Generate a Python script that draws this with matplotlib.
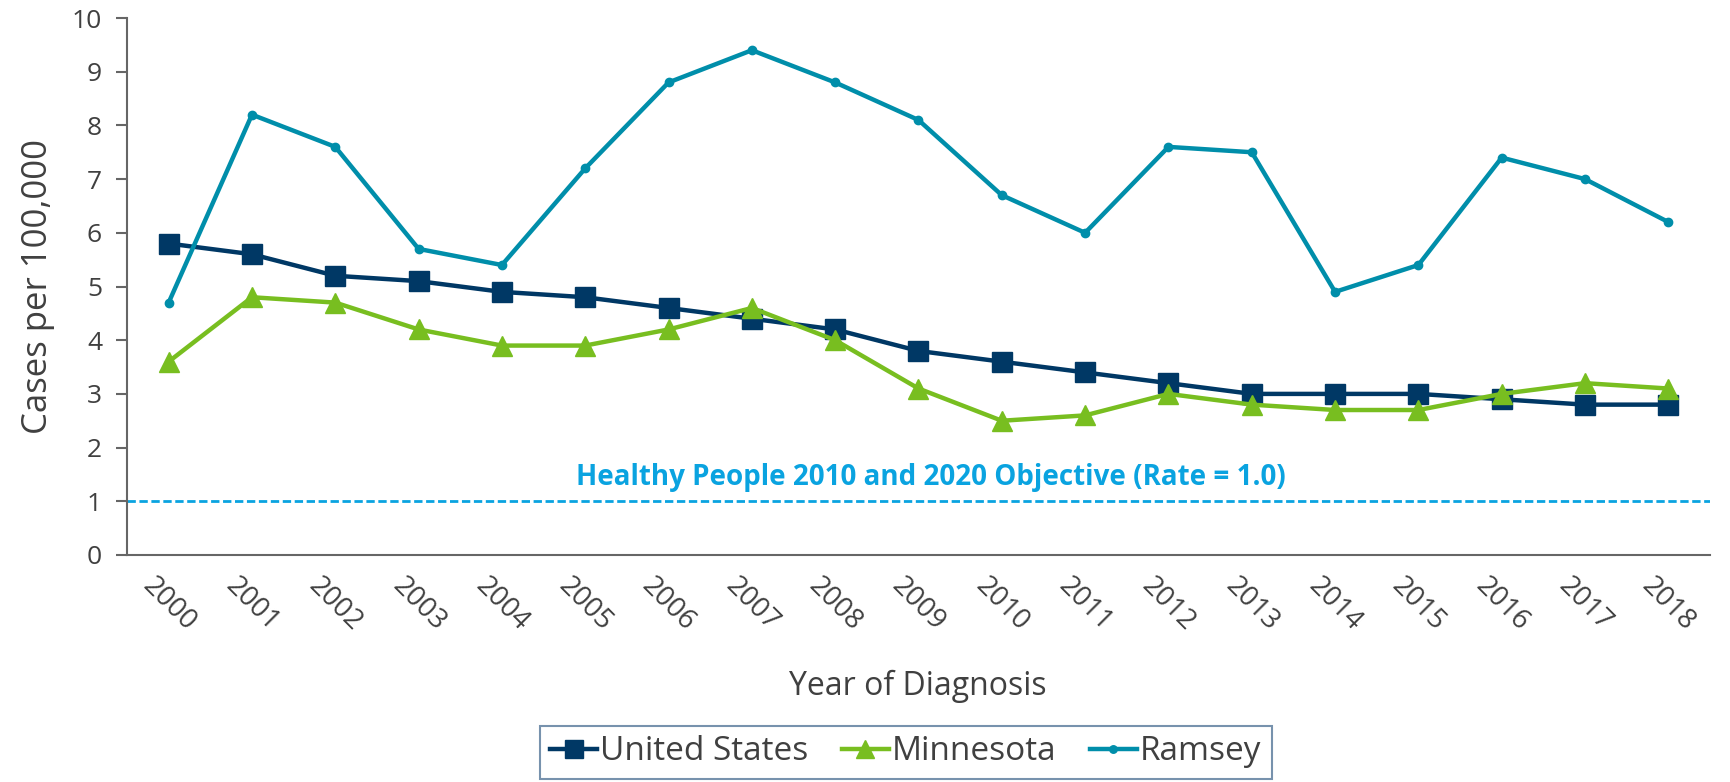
import matplotlib
matplotlib.use("Agg")
import matplotlib.pyplot as plt
import numpy as np

years = [str(y) for y in range(2000, 2019)]
us = [5.8, 5.6, 5.2, 5.1, 4.9, 4.8, 4.6, 4.4, 4.2, 3.8, 3.6, 3.4, 3.2, 3.0, 3.0, 3.0, 2.9, 2.8, 2.8]
mn = [3.6, 4.8, 4.7, 4.2, 3.9, 3.9, 4.2, 4.6, 4.0, 3.1, 2.5, 2.6, 3.0, 2.8, 2.7, 2.7, 3.0, 3.2, 3.1]
ramsey = [4.7, 8.2, 7.6, 5.7, 5.4, 7.2, 8.8, 9.4, 8.8, 8.1, 6.7, 6.0, 7.6, 7.5, 4.9, 5.4, 7.4, 7.0, 6.2]
objective = 1.0
objective_label = "Healthy People 2010 and 2020 Objective (Rate = 1.0)"

plt.rcParams['font.family'] = ['Open Sans', 'DejaVu Sans']
TXT = '#404040'

fig = plt.figure(figsize=(17.3, 7.82), dpi=100)
ax = fig.add_axes([127/1730, 1-555/782, (1710-127)/1730, (555-18)/782])

x = np.arange(len(years))
ax.plot(x, us, color='#003865', lw=3.2, marker='s', ms=15, label='United States', zorder=3)
ax.plot(x, mn, color='#78be20', lw=3.2, marker='^', ms=15, label='Minnesota', zorder=4)
ax.plot(x, ramsey, color='#008eaa', lw=3.2, marker='o', ms=6, label='Ramsey', zorder=5)
ax.axhline(objective, color='#0aa3e0', lw=2, linestyle=(0, (3, 1.3)), zorder=2)
ax.text(9.15, 1.17, objective_label, color='#0aa3e0', fontsize=20, fontweight='bold',
        ha='center', va='bottom')

ax.set_xlim(-0.5, len(years) - 0.5)
ax.set_ylim(0, 10)
ax.set_yticks(range(0, 11))
ax.set_xticks(x)
ax.set_xticklabels(years, rotation=-45, ha='center', va='top', fontsize=20, color=TXT)
ax.tick_params(axis='x', length=0, pad=12)
ax.tick_params(axis='y', length=8, width=1.5, color='#666666', labelsize=19, labelcolor=TXT, pad=10)
for s in ['top', 'right']:
    ax.spines[s].set_visible(False)
for s in ['left', 'bottom']:
    ax.spines[s].set_color('#666666')
    ax.spines[s].set_linewidth(1.5)

ax.set_ylabel('Cases per 100,000', fontsize=25, color=TXT, labelpad=12)
fig.text(918/1730, 1-686/782, 'Year of Diagnosis', fontsize=23, color=TXT, ha='center', va='center')

leg = fig.legend(loc='center', bbox_to_anchor=(906/1730, 1-752/782), ncol=3, fontsize=24,
                 frameon=True, fancybox=False, edgecolor='#557799', handlelength=1.4,
                 handletextpad=0.1, columnspacing=1.0, borderpad=0.3, markerscale=0.9)
leg.get_frame().set_linewidth(1.5)
for t in leg.get_texts():
    t.set_color(TXT)

fig.savefig('out.png', dpi=100)
